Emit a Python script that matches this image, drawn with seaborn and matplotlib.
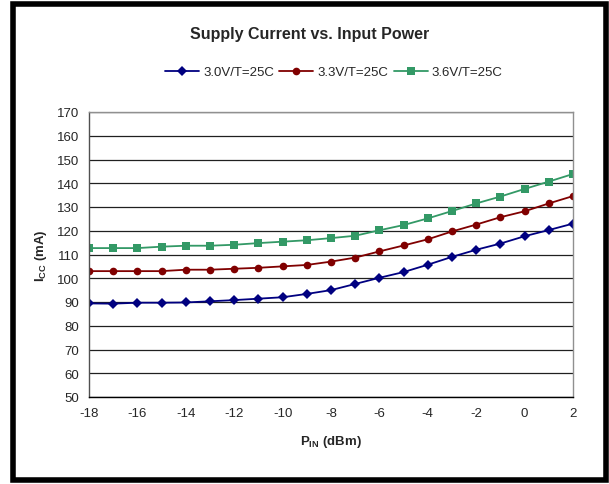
import pandas as pd
import seaborn as sns
import matplotlib.pyplot as plt
from matplotlib.patches import Rectangle

P_IN = list(range(-18, 3))

ICC_30V = [89.4, 89.3, 89.7, 89.7, 89.8, 90.3, 90.8, 91.4, 92.0, 93.4, 95.0,
           97.6, 100.2, 102.6, 105.7, 109.0, 112.0, 114.6, 117.7, 120.3, 123.0]
ICC_33V = [103.0, 103.0, 103.0, 103.0, 103.6, 103.6, 104.0, 104.4, 105.0, 105.6, 107.0,
           108.7, 111.3, 113.8, 116.4, 119.7, 122.6, 125.7, 128.2, 131.5, 134.6]
ICC_36V = [112.7, 112.7, 112.7, 113.3, 113.7, 113.7, 114.1, 114.8, 115.4, 116.0, 116.9,
           117.9, 120.2, 122.4, 125.2, 128.3, 131.5, 134.4, 137.6, 140.7, 143.9]

SERIES = ["3.0V/T=25C", "3.3V/T=25C", "3.6V/T=25C"]
COLORS = {"3.0V/T=25C": "#000080", "3.3V/T=25C": "#800000", "3.6V/T=25C": "#339966"}
MARKERS = {"3.0V/T=25C": "D", "3.3V/T=25C": "o", "3.6V/T=25C": "s"}


def main():
    df = pd.DataFrame({
        "pin": P_IN * 3,
        "icc": ICC_30V + ICC_33V + ICC_36V,
        "series": [s for s in SERIES for _ in P_IN],
    })

    sns.set_style("white")
    plt.rcParams["font.family"] = ["Liberation Sans", "DejaVu Sans"]
    plt.rcParams["axes.unicode_minus"] = False
    plt.rcParams["mathtext.fontset"] = "custom"
    plt.rcParams["mathtext.rm"] = "Liberation Sans:bold"
    plt.rcParams["mathtext.bf"] = "Liberation Sans:bold"

    fig = plt.figure(figsize=(6.09, 4.85), dpi=100)
    ax = fig.add_axes([89 / 609, 1 - 398 / 485, (573 - 89) / 609, (398 - 113) / 485])

    sns.lineplot(data=df, x="pin", y="icc", hue="series", style="series",
                 hue_order=SERIES, style_order=SERIES,
                 palette=COLORS, markers=MARKERS, dashes=False,
                 markersize=5.5, markeredgewidth=0, linewidth=1.3, ax=ax)

    ax.set_xlim(-18, 2)
    ax.set_ylim(50, 170)
    ax.set_xticks(range(-18, 3, 2))
    ax.set_yticks(range(50, 171, 10))
    ax.yaxis.grid(True, color="#202020", linewidth=0.9)
    ax.set_axisbelow(True)
    for side in ["top", "right"]:
        ax.spines[side].set_color("#909090")
        ax.spines[side].set_linewidth(1.0)
    ax.spines["left"].set_color("#505050")
    ax.spines["bottom"].set_color("black")
    for side in ["left", "bottom"]:
        ax.spines[side].set_linewidth(1.0)
    ax.tick_params(axis="both", direction="out", length=4, width=1,
                   color="#303030", labelsize=9.5, pad=3)

    ax.set_xlabel(r"P$_{\mathrm{IN}}$ (dBm)", fontsize=9.5, fontweight="bold", labelpad=10)
    ax.set_ylabel(r"I$_{\mathrm{CC}}$ (mA)", fontsize=9.5, fontweight="bold", labelpad=6)

    fig.text(0.508, 1 - 35 / 485, "Supply Current vs. Input Power",
             ha="center", va="center", fontsize=11.5, fontweight="bold")

    handles, labels = ax.get_legend_handles_labels()
    ax.legend_.remove()
    fig.legend(handles, labels, loc="center", bbox_to_anchor=(0.548, 1 - 73 / 485),
               ncol=3, frameon=False, fontsize=9.5, handlelength=2.6,
               columnspacing=0.4, handletextpad=0.3)

    fig.patches.append(Rectangle((13 / 609, 4.5 / 485), (605.5 - 13) / 609, (480.5 - 4.5) / 485,
                                 transform=fig.transFigure, fill=False,
                                 edgecolor="black", linewidth=4))

    fig.savefig("out.png", dpi=100)


if __name__ == "__main__":
    main()
